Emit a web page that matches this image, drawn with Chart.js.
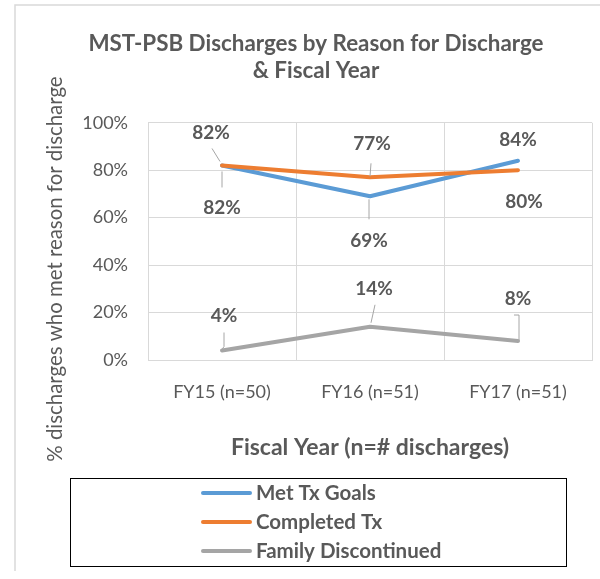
<!DOCTYPE html>
<html>
<head>
<meta charset="utf-8">
<script src="https://cdn.jsdelivr.net/npm/chart.js@4"></script>
<style>
    html, body { margin: 0; padding: 0; background: #fff; }
    #wrap { width: 600px; height: 579px; position: relative; }
</style>
</head>
<body>
<div id="wrap"><canvas id="chart_discharges"></canvas></div>
<script>
    // values
    var fiscalYears = ["FY15 (n=50)", "FY16 (n=51)", "FY17 (n=51)"];
    var metTxGoals = [82, 69, 84];
    var completedTx = [82, 77, 80];
    var familyDiscontinued = [4, 14, 8];
    var seriesNames = ["Met Tx Goals", "Completed Tx", "Family Discontinued"];

    var textColor = "#595959";
    var fontFamily = "Lato, 'Open Sans', sans-serif";

    // label placement relative to each point: [dx, dy, leader polyline]
    var labelPlacement = [
        [[0, 42, [[0, 6], [0, 22]]], [-1, 45, [[-1, 3], [-1, 23]]], [0, -21, null]],
        [[-11, -33, [[-10, -17], [-2, -4]]], [2, -33, [[1, -14], [0, -1]]], [6, 32, null]],
        [[2, -35, [[2, -18], [2, -4], [0, -1]]], [4, -38, [[5, -22], [1, -4]]], [0, -42, [[-4, -26], [1, -26], [1, 0]]]]
    ];

    var pointLabels = {
        id: "pointLabels",
        afterDatasetsDraw: function (chart) {
            var ctx = chart.ctx;
            ctx.save();
            chart.data.datasets.forEach(function (ds, di) {
                var meta = chart.getDatasetMeta(di);
                meta.data.forEach(function (pt, i) {
                    var place = labelPlacement[di][i];
                    if (place[2]) {
                        ctx.strokeStyle = "#a6a6a6";
                        ctx.lineWidth = 1;
                        ctx.beginPath();
                        place[2].forEach(function (p, k) {
                            if (k === 0) ctx.moveTo(pt.x + p[0], pt.y + p[1]);
                            else ctx.lineTo(pt.x + p[0], pt.y + p[1]);
                        });
                        ctx.stroke();
                    }
                    ctx.fillStyle = textColor;
                    ctx.font = "bold 19px " + fontFamily;
                    ctx.textAlign = "center";
                    ctx.textBaseline = "middle";
                    ctx.fillText(ds.data[i] + "%", pt.x + place[0], pt.y + place[1]);
                });
            });
            ctx.restore();
        }
    };

    var frameAndLegend = {
        id: "frameAndLegend",
        beforeDraw: function (chart) {
            var ctx = chart.ctx;
            ctx.save();
            ctx.fillStyle = "#fff";
            ctx.fillRect(0, 0, chart.width, chart.height);
            ctx.strokeStyle = "#d9d9d9";
            ctx.lineWidth = 1.5;
            ctx.beginPath();
            ctx.moveTo(15, chart.height - 8);
            ctx.lineTo(15, 5);
            ctx.lineTo(chart.width, 5);
            ctx.stroke();
            ctx.restore();
        },
        afterDraw: function (chart) {
            var ctx = chart.ctx;
            ctx.save();
            // y axis title, drawn by hand so it can sit off centre like the original
            ctx.translate(55, 269);
            ctx.rotate(-Math.PI / 2);
            ctx.fillStyle = textColor;
            ctx.font = "20.4px " + fontFamily;
            ctx.textAlign = "center";
            ctx.textBaseline = "middle";
            ctx.fillText("% discharges who met reason for discharge", 0, 0);
            ctx.restore();

            // legend box
            ctx.save();
            ctx.strokeStyle = "#000";
            ctx.lineWidth = 1;
            ctx.strokeRect(70.5, 478.5, 496, 88);
            ctx.font = "bold 20.5px " + fontFamily;
            ctx.textBaseline = "middle";
            ctx.textAlign = "left";
            chart.data.datasets.forEach(function (ds, i) {
                var y = 493 + i * 29;
                ctx.strokeStyle = ds.borderColor;
                ctx.lineWidth = 4;
                ctx.lineCap = "round";
                ctx.beginPath();
                ctx.moveTo(203, y);
                ctx.lineTo(250, y);
                ctx.stroke();
                ctx.fillStyle = textColor;
                ctx.fillText(ds.label, 256, y);
            });
            ctx.restore();
        }
    };

    function lineSet(label, data, color, order) {
        return {
            label: label,
            data: data,
            borderColor: color,
            backgroundColor: color,
            borderWidth: 4,
            borderCapStyle: "round",
            borderJoinStyle: "round",
            pointRadius: 0,
            tension: 0,
            order: order
        };
    }

    var ctx = document.getElementById("chart_discharges").getContext("2d");
    var chart = new Chart(ctx, {
        type: "line",
        data: {
            labels: fiscalYears,
            datasets: [
                lineSet(seriesNames[0], metTxGoals, "#5b9bd5", 1),
                lineSet(seriesNames[1], completedTx, "#ed7d31", 0),
                lineSet(seriesNames[2], familyDiscontinued, "#a5a5a5", 2)
            ]
        },
        options: {
            responsive: true,
            maintainAspectRatio: false,
            animation: false,
            layout: { padding: { left: 40, right: 8, top: 0, bottom: 109 } },
            plugins: {
                legend: { display: false },
                tooltip: { enabled: false },
                title: {
                    display: true,
                    text: ["MST-PSB Discharges by Reason for Discharge", "& Fiscal Year"],
                    color: textColor,
                    font: { family: fontFamily, size: 22.4, weight: "bold", lineHeight: 1.2 },
                    padding: { top: 30, bottom: 39 },
                    align: "center"
                }
            },
            scales: {
                x: {
                    offset: true,
                    grid: { color: "#d9d9d9", offset: true, drawTicks: false },
                    border: { color: "#d9d9d9" },
                    ticks: {
                        color: textColor,
                        padding: 21,
                        font: { family: fontFamily, size: 18 }
                    },
                    title: {
                        display: true,
                        text: "Fiscal Year (n=# discharges)",
                        color: textColor,
                        font: { family: fontFamily, size: 23, weight: "bold", lineHeight: 1.2 },
                        padding: { top: 0, bottom: 9 }
                    },
                    afterFit: function (scale) { scale.height = 110; }
                },
                y: {
                    min: 0,
                    max: 100,
                    grid: { color: "#d9d9d9", drawTicks: false },
                    border: { color: "#d9d9d9" },
                    ticks: {
                        stepSize: 20,
                        color: textColor,
                        padding: 20,
                        font: { family: fontFamily, size: 18 },
                        callback: function (v) { return v + "%"; }
                    },
                    afterFit: function (scale) { scale.width = 108; }
                }
            }
        },
        plugins: [frameAndLegend, pointLabels]
    });
</script>
</body>
</html>
